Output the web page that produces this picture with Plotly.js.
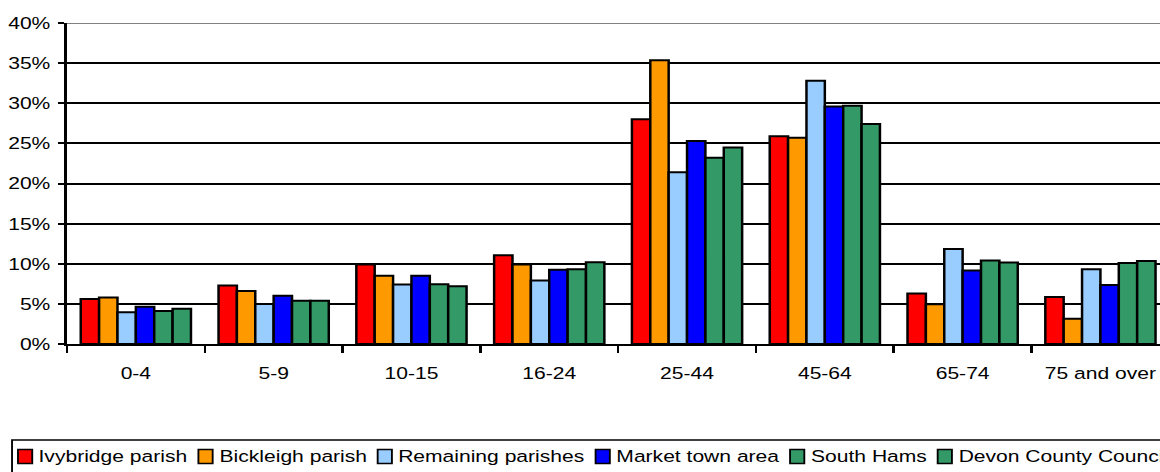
<!DOCTYPE html>
<html>
<head>
<meta charset="utf-8">
<script src="https://cdn.plot.ly/plotly-3.0.1.min.js"></script>
<style>
  html, body { margin: 0; padding: 0; overflow: hidden; background: #fff; }
  /* the source picture is stretched sideways, so the plot is too */
  #chart { width: 952px; height: 472px; transform: scaleX(1.24); transform-origin: 0 0; }
</style>
</head>
<body>
<div id="chart"></div>
<script>
const ageGroups = ['0-4', '5-9', '10-15', '16-24', '25-44', '45-64', '65-74', '75 and over'];
const seriesNames = ['Ivybridge parish', 'Bickleigh parish', 'Remaining parishes', 'Market town area', 'South Hams', 'Devon County Council'];
const ivybridge = [5.6, 7.3, 9.9, 11.05, 28.0, 25.9, 6.3, 5.85];
const bickleigh = [5.8, 6.6, 8.5, 9.9, 35.35, 25.7, 4.95, 3.15];
const remaining = [3.95, 5.0, 7.4, 7.9, 21.4, 32.8, 11.85, 9.3];
const marketTown = [4.65, 6.0, 8.5, 9.25, 25.3, 29.6, 9.15, 7.35];
const southHams = [4.1, 5.4, 7.45, 9.3, 23.2, 29.7, 10.4, 10.1];
const devon = [4.4, 5.4, 7.2, 10.2, 24.5, 27.4, 10.15, 10.35];
const seriesValues = [ivybridge, bickleigh, remaining, marketTown, southHams, devon];
const seriesColors = ['#FF0000', '#FF9900', '#99CCFF', '#0000FF', '#339966', '#339966'];

const FONT = 'Liberation Sans, Arial, sans-serif';
const W = 952, H = 472;
const M = { l: 54, r: 9, t: 23, b: 128 };
const plotW = W - M.l - M.r, plotH = H - M.t - M.b;

// pixel -> paper coordinates (unscaled page pixels)
function px(x) { return (x - M.l) / plotW; }
function py(y) { return (H - M.b - y) / plotH; }

const traces = seriesNames.map(function (name, i) {
  return {
    type: 'bar',
    name: name,
    x: ageGroups,
    y: seriesValues[i],
    marker: { color: seriesColors[i], line: { color: '#000', width: 2 } },
  };
});

// hand-made legend, laid out like the original one
const ctx = document.createElement('canvas').getContext('2d');
ctx.font = '17px "Liberation Sans"';
const shapes = [
  { type: 'line', xref: 'paper', yref: 'y', x0: 0, x1: 1, y0: 40, y1: 40, line: { color: '#808080', width: 2 } },
  { type: 'rect', xref: 'paper', yref: 'paper', x0: px(9.7), x1: px(W + 20), y0: py(440), y1: py(478), line: { color: '#000', width: 1.5 }, fillcolor: 'rgba(0,0,0,0)' },
];
const annotations = [];
let cursor = 14.5;
seriesNames.forEach(function (name, i) {
  shapes.push({
    type: 'rect', xref: 'paper', yref: 'paper',
    x0: px(cursor), x1: px(cursor + 11.5), y0: py(449.5), y1: py(463.5),
    fillcolor: seriesColors[i], line: { color: '#000', width: 1.5 },
  });
  annotations.push({
    xref: 'paper', yref: 'paper', x: px(cursor + 15.5), y: py(456),
    xanchor: 'left', yanchor: 'middle', showarrow: false, borderpad: 0,
    text: name, font: { family: FONT, size: 17, color: '#000' },
  });
  cursor += 15.5 + ctx.measureText(name).width + 10;
});

const layout = {
  width: W,
  height: H,
  margin: M,
  barmode: 'group',
  bargap: 0.2,
  bargroupgap: 0,
  showlegend: false,
  paper_bgcolor: '#fff',
  plot_bgcolor: '#fff',
  font: { family: FONT, size: 17, color: '#000' },
  xaxis: {
    type: 'category',
    showline: true, linecolor: '#000', linewidth: 2,
    ticks: 'outside', tickson: 'boundaries', ticklen: 7, tickwidth: 2, tickcolor: '#000',
    ticklabelstandoff: 13,
    showgrid: false,
  },
  yaxis: {
    range: [0, 40], dtick: 5, ticksuffix: '%',
    showgrid: true, gridcolor: '#000', gridwidth: 2,
    zeroline: false,
    showline: true, linecolor: '#000', linewidth: 2,
    ticks: 'outside', ticklen: 5, tickwidth: 2, tickcolor: '#000',
    ticklabelstandoff: 3,
  },
  shapes: shapes,
  annotations: annotations,
};

Plotly.newPlot('chart', traces, layout, { staticPlot: true, displayModeBar: false });
</script>
</body>
</html>
